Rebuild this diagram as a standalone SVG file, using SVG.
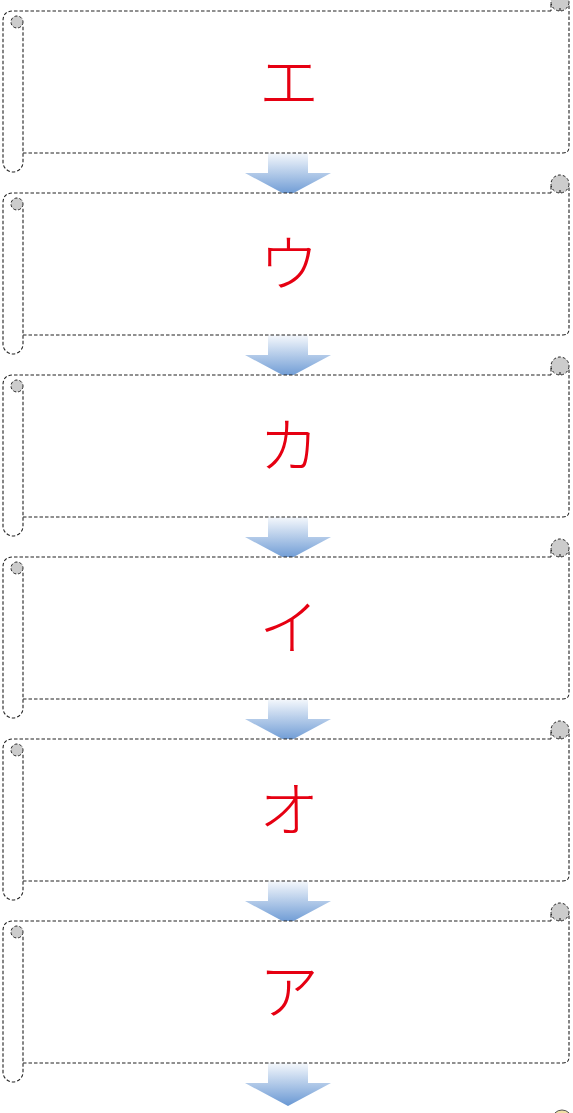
<svg xmlns="http://www.w3.org/2000/svg" width="573" height="1113" viewBox="0 0 573 1113">
<defs>
<style>
.d{fill:none;stroke:#222;stroke-width:1.1;stroke-dasharray:3.5 2}
.g{fill:#cccccc;stroke:#222;stroke-width:1;stroke-dasharray:3 2}
.t{font-family:"Noto Sans CJK JP",sans-serif;font-size:60px;font-weight:300;fill:#e60012;text-anchor:middle}
.a{fill:url(#ag)}
</style>
<linearGradient id="ag" x1="0" y1="0" x2="0" y2="1">
<stop offset="0" stop-color="#ffffff"/>
<stop offset="1" stop-color="#6897d3"/>
</linearGradient>
<g id="scroll">
<rect x="22" y="11" width="547" height="142" fill="#fff"/>
<path class="d" d="M551 11 H13 Q3 11 3 21 V162 A10 10 0 0 0 23 162 V25"/>
<path class="d" d="M23 153 H563 Q569 153 569 147 V4"/>
<circle class="g" cx="17" cy="22" r="6"/>
<circle class="g" cx="560" cy="2" r="9"/>
<path class="d" d="M551 4 V11 M560 11 V8"/>
</g>
</defs>
<g id="connectors">
<polygon class="a" points="268,150 308,150 308,173 331,173 288,196 245,173 268,173"/>
<polygon class="a" points="268,332 308,332 308,355 331,355 288,378 245,355 268,355"/>
<polygon class="a" points="268,514 308,514 308,537 331,537 288,560 245,537 268,537"/>
<polygon class="a" points="268,696 308,696 308,719 331,719 288,742 245,719 268,719"/>
<polygon class="a" points="268,878 308,878 308,901 331,901 288,924 245,901 268,901"/>
<polygon class="a" points="268,1060 308,1060 308,1083 331,1083 288,1106 245,1083 268,1083"/>
</g>
<g id="node1"><use href="#scroll"/><text class="t" x="289" y="104">エ</text></g>
<g id="node2" transform="translate(0,182)"><use href="#scroll"/><text class="t" x="289" y="104">ウ</text></g>
<g id="node3" transform="translate(0,364)"><use href="#scroll"/><text class="t" x="289" y="104">カ</text></g>
<g id="node4" transform="translate(0,546)"><use href="#scroll"/><text class="t" x="289" y="104">イ</text></g>
<g id="node5" transform="translate(0,728)"><use href="#scroll"/><text class="t" x="289" y="104">オ</text></g>
<g id="node6" transform="translate(0,910)"><use href="#scroll"/><text class="t" x="289" y="104">ア</text></g>
<circle cx="562" cy="1120" r="10" fill="#f1e0a6" stroke="#555" stroke-width="1"/>
</svg>
